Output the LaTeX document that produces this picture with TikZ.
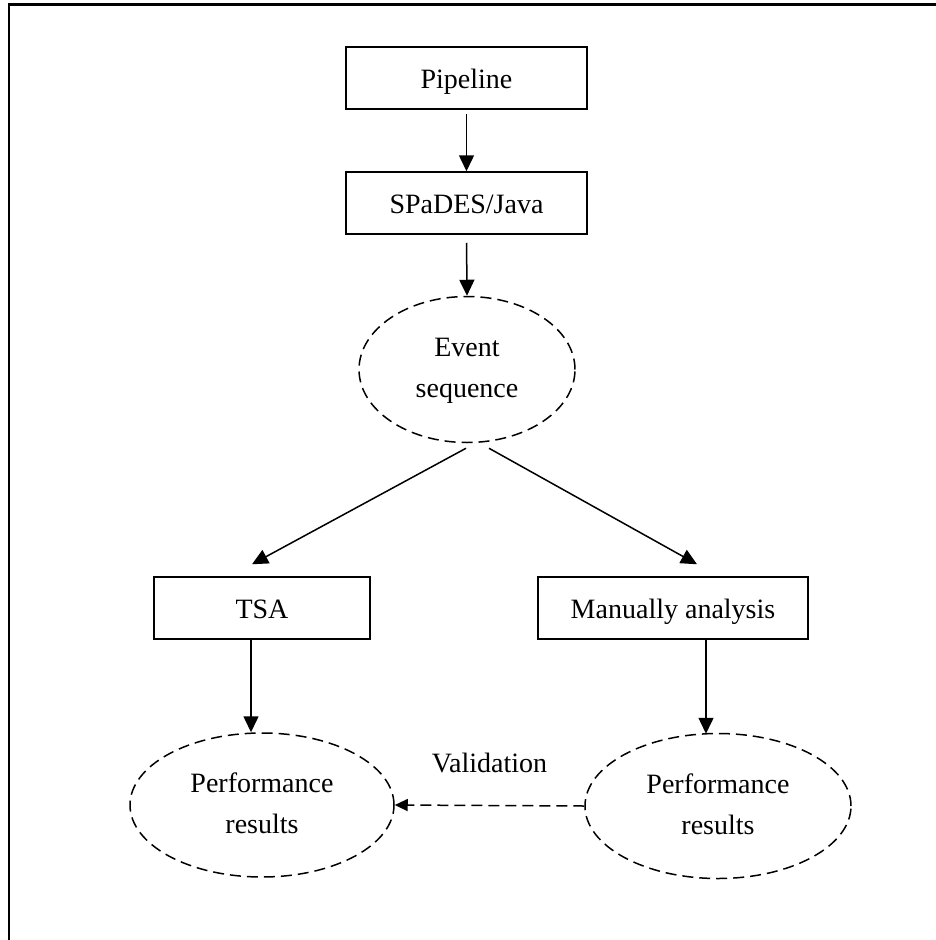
\documentclass[tikz,border=0pt]{standalone}
\usepackage{fontspec}
\setmainfont{Liberation Serif}
\usetikzlibrary{arrows.meta,shapes.geometric}

% two centred lines, first baseline on the box baseline, fixed height and depth
\newcommand{\twolines}[2]{\raisebox{0pt}[20pt][46pt]{%
  \begin{tabular}[t]{@{}c@{}}#1\\#2\end{tabular}}}

\tikzset{
  x=1pt, y=-1pt,
  every node/.style={font=\fontsize{28}{41}\selectfont},
  stepbox/.style={draw, line width=1.5pt, rectangle, minimum height=62pt,
    inner sep=0pt, text height=27pt, text depth=7pt},
  oval/.style={draw, line width=1.5pt, ellipse, dash pattern=on 11pt off 6pt,
    inner sep=0pt},
  link/.style={line width=1.5pt, -{Triangle[length=16pt,width=15pt]}},
  dlink/.style={line width=1.5pt, dash pattern=on 11pt off 6pt,
    -{Triangle[length=13pt,width=12pt]}},
}

\begin{document}
\begin{tikzpicture}
\useasboundingbox (0,0) rectangle (936,940);

% outer frame (top and left edges)
\draw[line width=2.2pt] (9,945) -- (9,4.5) -- (945,4.5);

% process boxes
\node[stepbox, minimum width=241pt] (pipe)   at (466.5,78)  {Pipeline};
\node[stepbox, minimum width=241pt] (spades) at (466.5,203) {SPaDES/Java};
\node[stepbox, minimum width=216pt] (tsa)    at (262,608)   {TSA};
\node[stepbox, minimum width=270pt] (manual) at (673,608)   {Manually analysis};

% data ovals
\node[oval, minimum width=216pt, minimum height=146pt] (event) at (467,369.5) {\twolines{Event}{sequence}};
\node[oval, minimum width=264pt, minimum height=144pt] (perfL) at (262,805)   {\twolines{Performance}{results}};
\node[oval, minimum width=266pt, minimum height=145pt] (perfR) at (718,806)   {\twolines{Performance}{results}};

% flow
\draw[link, shorten <=4pt] (pipe.south) -- (spades.north);
\draw[link, shorten <=8pt] (spades.south) -- (event.north);
\draw[link] ([xshift=-1pt,yshift=-5pt]event.south) -- ([xshift=-10pt,yshift=12pt]tsa.north);
\draw[link] ([xshift=22pt,yshift=-5pt]event.south) -- ([xshift=24pt,yshift=12pt]manual.north);
\draw[link] ([xshift=-11pt]tsa.south) -- ([xshift=-11pt]perfL.north);
\draw[link] ([xshift=33pt]manual.south) -- ([xshift=-12pt,yshift=-1pt]perfR.north);

% validation
\draw[dlink] (perfR.west) -- node[midway, anchor=base, yshift=33pt] {Validation} (perfL.east);
\end{tikzpicture}
\end{document}
